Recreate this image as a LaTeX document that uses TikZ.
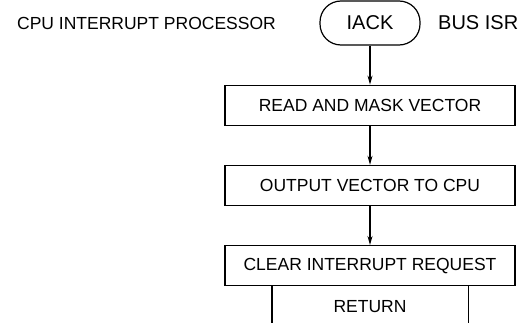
\documentclass[tikz,border=0pt]{standalone}
\usepackage{fontspec}
\setmainfont{Liberation Sans}
\usetikzlibrary{positioning, arrows.meta}

\begin{document}
\begin{tikzpicture}[x=1pt, y=1pt, line width=1.2pt,
    lbl/.style={inner sep=0pt, font=\fontsize{17.5}{20}\selectfont},
    biglbl/.style={inner sep=0pt, font=\fontsize{20}{22}\selectfont},
    stepbox/.style={draw, lbl, minimum width=290pt, minimum height=40pt},
    term/.style={draw, biglbl, rounded corners=21pt, minimum width=100pt, minimum height=44pt},
    flow/.style={-{Stealth[length=9pt, width=5pt]}},
    node distance=39pt]
  \useasboundingbox (0,0) rectangle (521,322);

  % 1. start of the routine, with the two headings
  \node[term] (iack) at (370,299) {IACK};
  \node[lbl, left=43pt of iack] (title) {CPU INTERRUPT PROCESSOR};
  \node[biglbl, right=17pt of iack] (bus) {BUS ISR};

  % 2. the steps
  \node[stepbox, below=of iack] (read) {READ AND MASK VECTOR};
  \node[stepbox, below=of read] (output) {OUTPUT VECTOR TO CPU};
  \node[stepbox, below=of output] (clear) {CLEAR INTERRUPT REQUEST};

  % 3. return, open at the bottom
  \node[lbl, minimum width=195pt, minimum height=39pt, below=0pt of clear] (ret) {RETURN};
  \draw (ret.north west) -- (ret.south west)
        (ret.north east) -- (ret.south east);

  % 4. connectors
  \draw[flow] (iack) -- (read);
  \draw[flow] (read) -- (output);
  \draw[flow] (output) -- (clear);
\end{tikzpicture}
\end{document}
